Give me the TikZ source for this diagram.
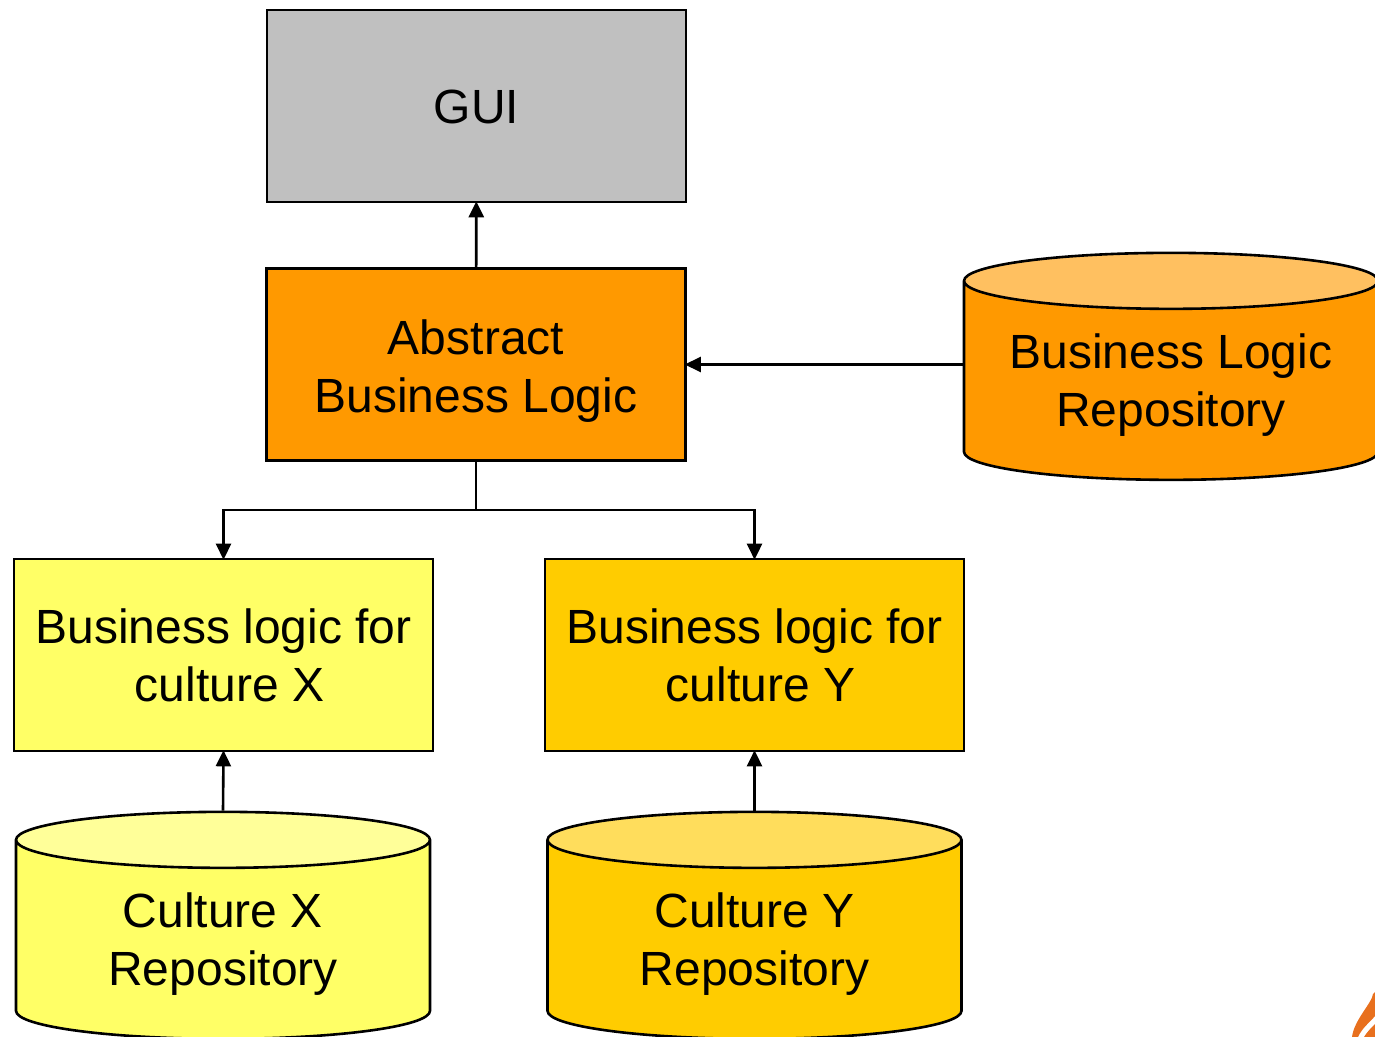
\documentclass[tikz,border=0pt]{standalone}
\usepackage{fontspec}
\setmainfont{Liberation Sans}
\usetikzlibrary{arrows.meta,shapes.geometric}
\definecolor{cgray}{HTML}{C0C0C0}
\definecolor{corange}{HTML}{FF9900}
\definecolor{corangetop}{HTML}{FFC060}
\definecolor{cyellow}{HTML}{FFFF66}
\definecolor{cyellowtop}{HTML}{FFFF99}
\definecolor{cgold}{HTML}{FFCC00}
\definecolor{cgoldtop}{HTML}{FFDD5C}
\definecolor{cflame}{HTML}{E8701E}
\newcommand\zb[1]{\makebox[100pt]{#1}}
\tikzset{
  every node/.style={font=\fontsize{24pt}{29pt}\selectfont, text=black},
  boxnode/.style={draw=black, line width=1.3pt, rectangle, minimum width=209.5pt, minimum height=96pt, inner sep=0pt, align=center},
  drum/.style={draw=black, line width=1.3pt, cylinder, shape border rotate=90, aspect=0.28, cylinder uses custom fill, minimum width=207pt, minimum height=113.5pt, inner sep=0pt, align=center},
  link/.style={draw=black, line width=1.3pt, -{Triangle[width=7.5pt,length=8pt]}, shorten >=-1pt}
}
\begin{document}
\begin{tikzpicture}[x=0.5pt,y=-0.5pt]
\useasboundingbox (0,0) rectangle (1375,1037);
\node[boxnode, fill=cgray] (gui) at (476.5,106) {\rule{0pt}{18pt}GUI};
\node[boxnode, fill=corange] (abl) at (476,364.5) {\rule{0pt}{24pt}Abstract\\Business Logic};
\node[boxnode, fill=cyellow] (bx) at (223.5,655) {\rule{0pt}{18pt}Business logic for\\\hspace*{6pt}culture X};
\node[boxnode, fill=cgold] (by) at (754.5,655) {\rule{0pt}{18pt}Business logic for\\\hspace*{6pt}culture Y};
\node[drum, cylinder body fill=corange, cylinder end fill=corangetop] (rb) at (1171,381) {\rule{0pt}{21pt}\zb{Business Logic}\\\zb{Repository}};
\node[drum, cylinder body fill=cyellow, cylinder end fill=cyellowtop] (rx) at (223,940) {\rule{0pt}{21pt}\zb{Culture X}\\\zb{Repository}};
\node[drum, cylinder body fill=cgold, cylinder end fill=cgoldtop] (ry) at (754.5,940) {\rule{0pt}{21pt}\zb{Culture Y}\\\zb{Repository}};
\coordinate (fork) at (476,510);
\draw[link] (abl) -- (gui);
\draw[link] (abl.east -| rb.west) -- (abl.east);
\draw[line width=1.3pt] (abl.south) -- (fork);
\draw[link] (fork) -| (bx.north);
\draw[link] (fork) -| (by.north);
\draw[link] (rx.north) -- (bx.south);
\draw[link] (ry.north) -- (by.south);
\fill[cflame] (1373,994) .. controls (1372,1003) and (1354,1020) .. (1352,1037) -- (1358,1037) .. controls (1362,1028) and (1370,1022) .. (1375,1016) -- (1375,992) -- cycle;
\fill[cflame] (1364,1037) .. controls (1367,1032) and (1371,1028) .. (1375,1024) -- (1375,1037) -- cycle;
\end{tikzpicture}
\end{document}
